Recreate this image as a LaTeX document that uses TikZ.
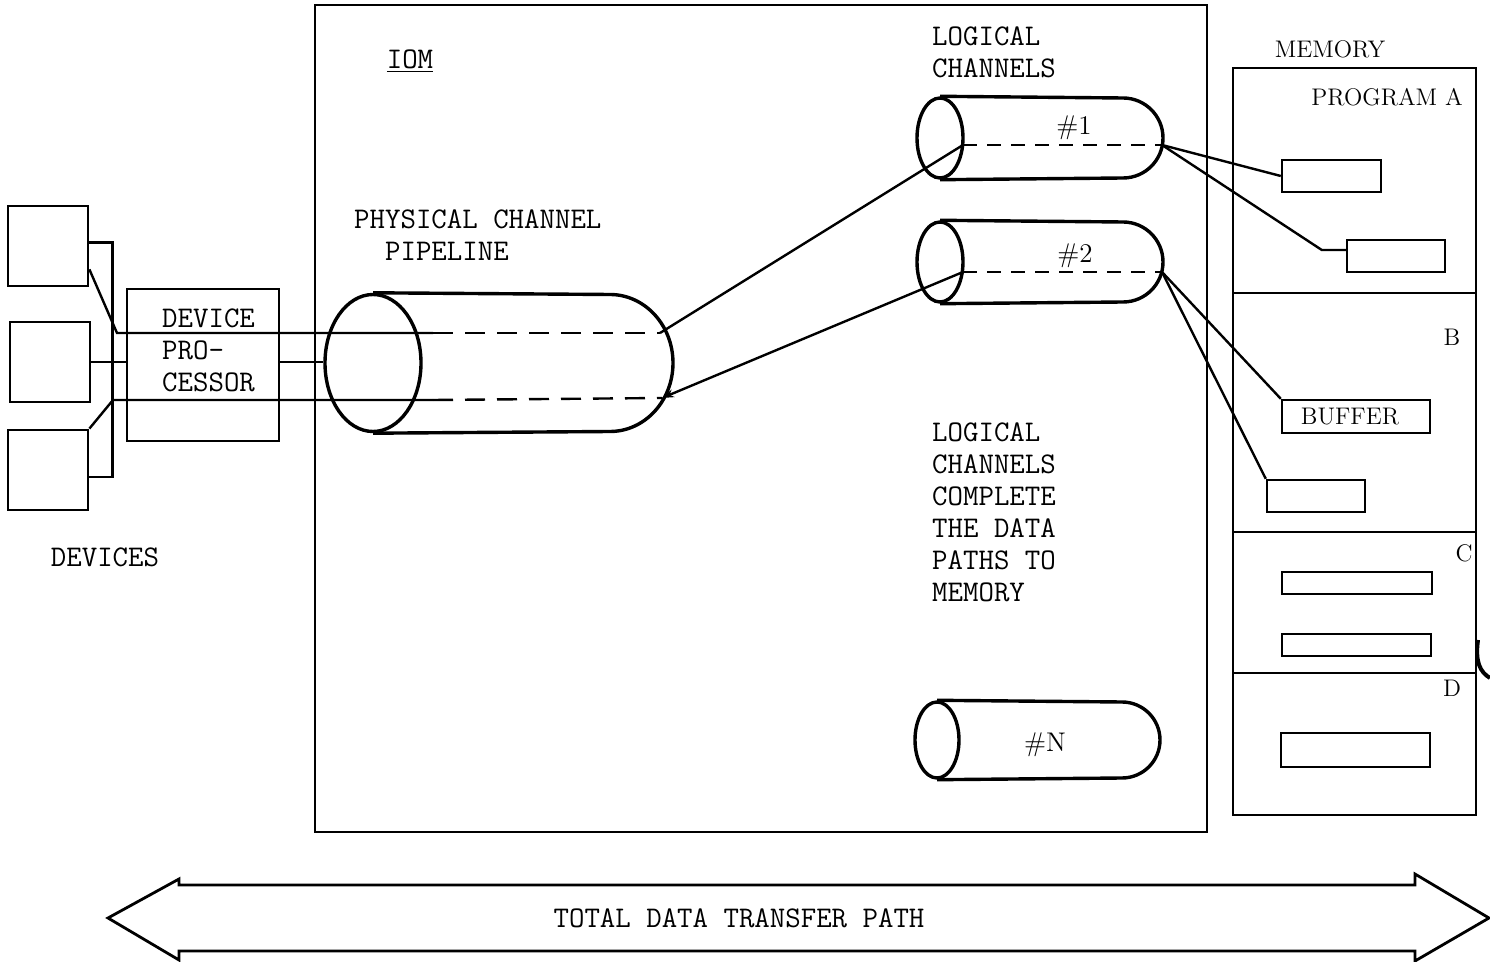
\documentclass[tikz,border=0pt]{standalone}
\usepackage{fontspec}
\usetikzlibrary{arrows.meta,positioning,shapes.geometric}
\begin{document}
\begin{tikzpicture}[x=0.5pt,y=-0.5pt,line width=1.2pt,
 box/.style={draw,rectangle,inner sep=0pt,line width=1.4pt},
 slot/.style={draw,rectangle,inner sep=0pt,line width=1.2pt,font=\fontsize{12}{14}\rmfamily},
 ttlabel/.style={font=\fontsize{15}{16}\ttfamily,align=left,inner sep=0pt},
 rmlabel/.style={font=\fontsize{12}{14}\rmfamily,inner sep=0pt},
 numlabel/.style={font=\fontsize{13.5}{15}\rmfamily,inner sep=0pt},
 tubeend/.style={draw,ellipse,inner sep=0pt,line width=1.7pt},
 tube/.style={line width=1.7pt},
 wire/.style={line width=1.2pt},
 hidden/.style={line width=1.2pt,dash pattern=on 10pt off 6pt},
 hiddensmall/.style={line width=1.2pt,dash pattern=on 7pt off 5pt}]
 \useasboundingbox (0,0) rectangle (1490,962);
 % devices and device processor
 \node[box,minimum width=40pt,minimum height=40pt] (dev1) at (48,246) {};
 \node[box,minimum width=40pt,minimum height=40pt] (dev2) at (50,362) {};
 \node[box,minimum width=40pt,minimum height=40pt] (dev3) at (48,470) {};
 \node[ttlabel] (devlbl) at (105,557) {DEVICES};
 \node[box,minimum width=76pt,minimum height=76pt] (dp) at (203,365) {};
 \node[ttlabel,anchor=north west] (dplbl) at (161,308) {DEVICE\\PRO-\\CESSOR};
 % IOM
 \node[draw,rectangle,inner sep=0pt,line width=1.2pt,minimum width=446pt,minimum height=413.5pt] (iom) at (761,418.5) {};
 \node[ttlabel] (iomlbl) at (410,61) {\underline{IOM}};
 \node[ttlabel,anchor=north west] (pipelbl) at (353,209) {PHYSICAL CHANNEL\\\hphantom{PH}PIPELINE};
 % physical channel pipeline
 \node[tubeend,minimum width=48pt,minimum height=68.5pt] (pipe) at (373,363) {};
 \draw[tube] (pipe.north) -- (610,294.5) arc[start angle=90,end angle=-90,x radius=31.5pt,y radius=34.25pt] -- (pipe.south);
 % logical channels
 \node[ttlabel,anchor=north west] (chlbl) at (931,26) {LOGICAL\\CHANNELS};
 \node[tubeend,minimum width=23pt,minimum height=40pt] (ch1) at (940,138) {};
 \draw[tube] (ch1.north) -- (1123,98) arc[start angle=90,end angle=-90,radius=20pt] -- (ch1.south);
 \node[numlabel] (ch1lbl) at (1074,128) {\#1};
 \node[tubeend,minimum width=23pt,minimum height=40pt] (ch2) at (940,262) {};
 \draw[tube] (ch2.north) -- (1123,222) arc[start angle=90,end angle=-90,radius=20pt] -- (ch2.south);
 \node[numlabel] (ch2lbl) at (1075,256) {\#2};
 \node[tubeend,minimum width=22pt,minimum height=38pt] (chn) at (937,740) {};
 \draw[tube] (chn.north) -- (1122,702) arc[start angle=90,end angle=-90,radius=19pt] -- (chn.south);
 \node[numlabel] (chnlbl) at (1045,745) {\#N};
 \node[ttlabel,anchor=north west] (notelbl) at (931,422)
   {LOGICAL\\CHANNELS\\COMPLETE\\THE DATA\\PATHS TO\\MEMORY};
 % wire ends
 \coordinate (top0) at (117,333);
 \coordinate (top1) at (433,333);
 \coordinate (top2) at (660,333);
 \coordinate (bot0) at (113,400);
 \coordinate (bot1) at (433,400);
 \coordinate (bot2) at (662,398);
 \coordinate (c1l) at (963,145);
 \coordinate (c1r) at (1162,145);
 \coordinate (c2l) at (963,272);
 \coordinate (c2r) at (1162,272);
 % device wiring
 \draw[wire] ([yshift=1.75pt]dev1.east) -- ++(23,0) |- ([yshift=-3.5pt]dev3.east);
 \draw[wire] ([yshift=9pt]dev1.south east) -- (top0) -- (top1);
 \draw[wire] (dev3.north east) -- (bot0) -- (bot1);
 \draw[wire] (dev2.east) -- (dev2.east -| dp.west);
 \draw[wire] (dev2.east -| dp.east) -- (dev2.east -| pipe.west);
 \draw[hidden] (top1) -- (top2);
 \draw[hidden] (bot1) -- (bot2);
 \draw[wire] (top2) -- (c1l);
 \draw[wire,-{Stealth[length=6pt,width=4pt]}] (c2l) -- (bot2);
 \draw[hiddensmall] (c1l) -- (c1r);
 \draw[hiddensmall] (c2l) -- (c2r);
 % memory
 \node[rmlabel] (memlbl) at (1330,49) {MEMORY};
 \node[box,line width=1.2pt,minimum width=121.5pt,minimum height=373.5pt] (mem) at (1354.5,441.5) {};
 \foreach \y in {293,532,673}
   \draw[wire] (1233,\y) -- (1476,\y);
 \node[rmlabel] (alb) at (1387,97) {PROGRAM A};
 \node[rmlabel] (blb) at (1452,337) {B};
 \node[rmlabel] (clb) at (1464,553) {C};
 \node[rmlabel] (dlb) at (1452,688) {D};
 \node[slot,minimum width=49.5pt,minimum height=16pt] (a1) at (1331.5,176) {};
 \node[slot,minimum width=49pt,minimum height=16pt] (a2) at (1396,256) {};
 \node[slot,minimum width=74pt,minimum height=16.5pt] (buf) at (1356,416.5) {BUFFER\hspace*{6pt}};
 \node[slot,minimum width=49pt,minimum height=16pt] (b2) at (1316,496) {};
 \node[slot,minimum width=75pt,minimum height=11pt] (c1) at (1357,583) {};
 \node[slot,minimum width=74.5pt,minimum height=11pt] (c2) at (1356.5,645) {};
 \node[slot,minimum width=74.5pt,minimum height=17pt] (d1) at (1355.5,750) {};
 \draw[wire] (c1r) -- (a1.west);
 \draw[wire] (c1r) -- ([xshift=-12pt,yshift=3pt]a2.west) -- ([yshift=3pt]a2.west);
 \draw[wire] (c2r) -- (buf.north west);
 \draw[wire] (c2r) -- (b2.north west);
 \draw[line width=2pt] (1478,640) .. controls (1475,662) and (1480,672) .. (1490,678);
 % total path arrow
 \draw[line width=1.4pt] (108,918) -- (179,879) -- (179,885) -- (1415,885) -- (1415,874)
   -- (1489,918) -- (1415,961) -- (1415,951) -- (179,951) -- (179,960) -- cycle;
 \node[ttlabel] (totlbl) at (739,918) {TOTAL DATA TRANSFER PATH};
\end{tikzpicture}
\end{document}
